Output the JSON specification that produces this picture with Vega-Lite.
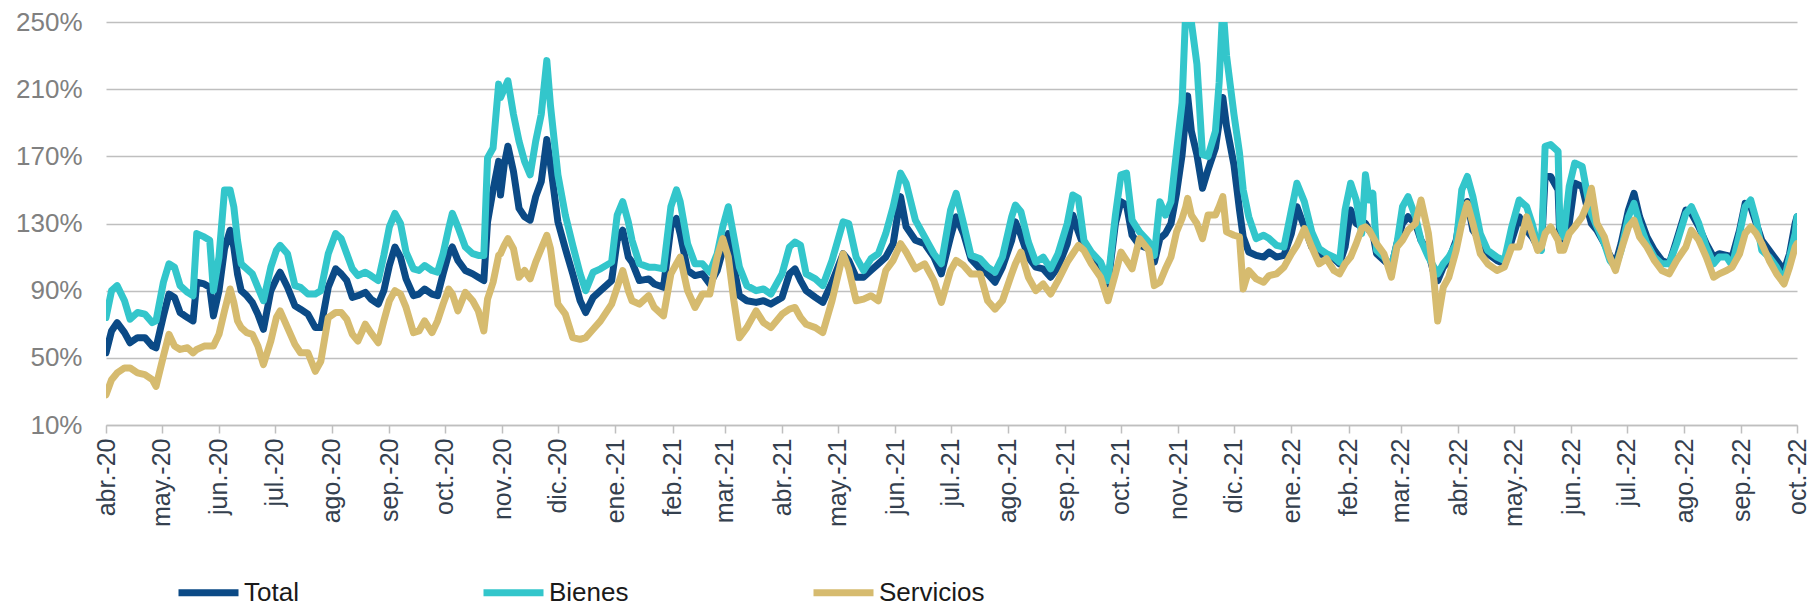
{
  "$schema": "https://vega.github.io/schema/vega-lite/v6.json",
  "width": 1691,
  "height": 403,
  "autosize": {"type": "none"},
  "padding": {"left": 106, "top": 22, "right": 15, "bottom": 183},
  "background": "white",
  "config": {"view": {"stroke": null}, "font": "Liberation Sans"},
  "data": {"values": [
    {"fecha":"2020-04-01","Total":53,"Bienes":74,"Servicios":28},
    {"fecha":"2020-04-04","Total":66,"Bienes":90,"Servicios":37},
    {"fecha":"2020-04-07","Total":71,"Bienes":93,"Servicios":41},
    {"fecha":"2020-04-11","Total":65,"Bienes":84,"Servicios":44},
    {"fecha":"2020-04-14","Total":59,"Bienes":73,"Servicios":44},
    {"fecha":"2020-04-18","Total":62,"Bienes":77,"Servicios":41},
    {"fecha":"2020-04-22","Total":62,"Bienes":76,"Servicios":40},
    {"fecha":"2020-04-26","Total":57,"Bienes":71,"Servicios":37},
    {"fecha":"2020-04-28","Total":56,"Bienes":72,"Servicios":33},
    {"fecha":"2020-05-02","Total":75,"Bienes":95,"Servicios":51},
    {"fecha":"2020-05-05","Total":88,"Bienes":106,"Servicios":64},
    {"fecha":"2020-05-08","Total":86,"Bienes":104,"Servicios":57},
    {"fecha":"2020-05-11","Total":77,"Bienes":93,"Servicios":55},
    {"fecha":"2020-05-15","Total":74,"Bienes":89,"Servicios":56},
    {"fecha":"2020-05-18","Total":72,"Bienes":87,"Servicios":53},
    {"fecha":"2020-05-20","Total":95,"Bienes":124,"Servicios":55},
    {"fecha":"2020-05-24","Total":94,"Bienes":122,"Servicios":57},
    {"fecha":"2020-05-27","Total":92,"Bienes":120,"Servicios":57},
    {"fecha":"2020-05-29","Total":75,"Bienes":90,"Servicios":57},
    {"fecha":"2020-06-01","Total":90,"Bienes":110,"Servicios":64},
    {"fecha":"2020-06-04","Total":115,"Bienes":150,"Servicios":78},
    {"fecha":"2020-06-07","Total":126,"Bienes":150,"Servicios":91},
    {"fecha":"2020-06-09","Total":116,"Bienes":140,"Servicios":83},
    {"fecha":"2020-06-11","Total":100,"Bienes":120,"Servicios":72},
    {"fecha":"2020-06-13","Total":90,"Bienes":106,"Servicios":68},
    {"fecha":"2020-06-16","Total":87,"Bienes":103,"Servicios":65},
    {"fecha":"2020-06-19","Total":83,"Bienes":100,"Servicios":64},
    {"fecha":"2020-06-22","Total":76,"Bienes":92,"Servicios":57},
    {"fecha":"2020-06-25","Total":67,"Bienes":84,"Servicios":46},
    {"fecha":"2020-06-29","Total":90,"Bienes":104,"Servicios":60},
    {"fecha":"2020-07-02","Total":97,"Bienes":114,"Servicios":74},
    {"fecha":"2020-07-04","Total":101,"Bienes":117,"Servicios":78},
    {"fecha":"2020-07-08","Total":92,"Bienes":112,"Servicios":68},
    {"fecha":"2020-07-12","Total":81,"Bienes":93,"Servicios":58},
    {"fecha":"2020-07-15","Total":79,"Bienes":92,"Servicios":53},
    {"fecha":"2020-07-19","Total":76,"Bienes":88,"Servicios":53},
    {"fecha":"2020-07-23","Total":68,"Bienes":88,"Servicios":42},
    {"fecha":"2020-07-26","Total":68,"Bienes":90,"Servicios":48},
    {"fecha":"2020-07-30","Total":92,"Bienes":112,"Servicios":74},
    {"fecha":"2020-08-03","Total":103,"Bienes":124,"Servicios":77},
    {"fecha":"2020-08-06","Total":100,"Bienes":121,"Servicios":77},
    {"fecha":"2020-08-09","Total":96,"Bienes":112,"Servicios":73},
    {"fecha":"2020-08-12","Total":86,"Bienes":103,"Servicios":64},
    {"fecha":"2020-08-15","Total":87,"Bienes":99,"Servicios":60},
    {"fecha":"2020-08-19","Total":89,"Bienes":101,"Servicios":70},
    {"fecha":"2020-08-22","Total":85,"Bienes":99,"Servicios":65},
    {"fecha":"2020-08-26","Total":82,"Bienes":96,"Servicios":59},
    {"fecha":"2020-08-29","Total":90,"Bienes":111,"Servicios":72},
    {"fecha":"2020-09-01","Total":105,"Bienes":128,"Servicios":84},
    {"fecha":"2020-09-04","Total":116,"Bienes":136,"Servicios":90},
    {"fecha":"2020-09-07","Total":110,"Bienes":130,"Servicios":88},
    {"fecha":"2020-09-10","Total":97,"Bienes":113,"Servicios":80},
    {"fecha":"2020-09-14","Total":87,"Bienes":103,"Servicios":65},
    {"fecha":"2020-09-17","Total":88,"Bienes":102,"Servicios":66},
    {"fecha":"2020-09-20","Total":91,"Bienes":105,"Servicios":72},
    {"fecha":"2020-09-24","Total":88,"Bienes":102,"Servicios":65},
    {"fecha":"2020-09-27","Total":87,"Bienes":101,"Servicios":72},
    {"fecha":"2020-09-30","Total":100,"Bienes":112,"Servicios":82},
    {"fecha":"2020-10-03","Total":112,"Bienes":127,"Servicios":91},
    {"fecha":"2020-10-05","Total":116,"Bienes":136,"Servicios":88},
    {"fecha":"2020-10-08","Total":108,"Bienes":128,"Servicios":78},
    {"fecha":"2020-10-12","Total":102,"Bienes":116,"Servicios":89},
    {"fecha":"2020-10-16","Total":100,"Bienes":112,"Servicios":84},
    {"fecha":"2020-10-19","Total":98,"Bienes":111,"Servicios":78},
    {"fecha":"2020-10-22","Total":96,"Bienes":111,"Servicios":66},
    {"fecha":"2020-10-24","Total":131,"Bienes":169,"Servicios":85},
    {"fecha":"2020-10-27","Total":150,"Bienes":175,"Servicios":95},
    {"fecha":"2020-10-30","Total":167,"Bienes":213,"Servicios":111},
    {"fecha":"2020-10-31","Total":147,"Bienes":205,"Servicios":112},
    {"fecha":"2020-11-02","Total":165,"Bienes":210,"Servicios":117},
    {"fecha":"2020-11-04","Total":176,"Bienes":215,"Servicios":121},
    {"fecha":"2020-11-07","Total":161,"Bienes":195,"Servicios":115},
    {"fecha":"2020-11-10","Total":139,"Bienes":179,"Servicios":98},
    {"fecha":"2020-11-13","Total":134,"Bienes":167,"Servicios":102},
    {"fecha":"2020-11-16","Total":132,"Bienes":159,"Servicios":97},
    {"fecha":"2020-11-19","Total":146,"Bienes":179,"Servicios":107},
    {"fecha":"2020-11-22","Total":155,"Bienes":195,"Servicios":115},
    {"fecha":"2020-11-25","Total":180,"Bienes":227,"Servicios":123},
    {"fecha":"2020-11-27","Total":165,"Bienes":200,"Servicios":115},
    {"fecha":"2020-12-01","Total":131,"Bienes":159,"Servicios":82},
    {"fecha":"2020-12-05","Total":115,"Bienes":135,"Servicios":76},
    {"fecha":"2020-12-09","Total":100,"Bienes":117,"Servicios":62},
    {"fecha":"2020-12-13","Total":84,"Bienes":100,"Servicios":61},
    {"fecha":"2020-12-16","Total":77,"Bienes":90,"Servicios":62},
    {"fecha":"2020-12-20","Total":86,"Bienes":101,"Servicios":67},
    {"fecha":"2020-12-24","Total":90,"Bienes":103,"Servicios":72},
    {"fecha":"2020-12-30","Total":96,"Bienes":107,"Servicios":82},
    {"fecha":"2021-01-02","Total":120,"Bienes":135,"Servicios":92},
    {"fecha":"2021-01-05","Total":126,"Bienes":143,"Servicios":102},
    {"fecha":"2021-01-08","Total":110,"Bienes":131,"Servicios":90},
    {"fecha":"2021-01-10","Total":107,"Bienes":120,"Servicios":84},
    {"fecha":"2021-01-14","Total":96,"Bienes":106,"Servicios":82},
    {"fecha":"2021-01-19","Total":97,"Bienes":104,"Servicios":87},
    {"fecha":"2021-01-22","Total":94,"Bienes":104,"Servicios":80},
    {"fecha":"2021-01-27","Total":92,"Bienes":103,"Servicios":75},
    {"fecha":"2021-01-31","Total":128,"Bienes":140,"Servicios":100},
    {"fecha":"2021-02-03","Total":133,"Bienes":150,"Servicios":106},
    {"fecha":"2021-02-05","Total":124,"Bienes":143,"Servicios":110},
    {"fecha":"2021-02-09","Total":102,"Bienes":118,"Servicios":90},
    {"fecha":"2021-02-13","Total":99,"Bienes":106,"Servicios":80},
    {"fecha":"2021-02-17","Total":100,"Bienes":106,"Servicios":88},
    {"fecha":"2021-02-21","Total":94,"Bienes":101,"Servicios":88},
    {"fecha":"2021-02-25","Total":102,"Bienes":112,"Servicios":110},
    {"fecha":"2021-02-28","Total":114,"Bienes":128,"Servicios":121},
    {"fecha":"2021-03-03","Total":124,"Bienes":140,"Servicios":110},
    {"fecha":"2021-03-06","Total":104,"Bienes":122,"Servicios":84},
    {"fecha":"2021-03-09","Total":87,"Bienes":104,"Servicios":62},
    {"fecha":"2021-03-13","Total":84,"Bienes":93,"Servicios":68},
    {"fecha":"2021-03-18","Total":83,"Bienes":90,"Servicios":78},
    {"fecha":"2021-03-22","Total":84,"Bienes":91,"Servicios":71},
    {"fecha":"2021-03-26","Total":82,"Bienes":88,"Servicios":68},
    {"fecha":"2021-04-01","Total":86,"Bienes":100,"Servicios":76},
    {"fecha":"2021-04-05","Total":100,"Bienes":116,"Servicios":79},
    {"fecha":"2021-04-08","Total":103,"Bienes":119,"Servicios":80},
    {"fecha":"2021-04-11","Total":96,"Bienes":117,"Servicios":74},
    {"fecha":"2021-04-14","Total":90,"Bienes":100,"Servicios":70},
    {"fecha":"2021-04-19","Total":86,"Bienes":97,"Servicios":68},
    {"fecha":"2021-04-23","Total":83,"Bienes":93,"Servicios":65},
    {"fecha":"2021-04-28","Total":95,"Bienes":108,"Servicios":84},
    {"fecha":"2021-05-04","Total":112,"Bienes":131,"Servicios":112},
    {"fecha":"2021-05-07","Total":108,"Bienes":130,"Servicios":103},
    {"fecha":"2021-05-11","Total":98,"Bienes":110,"Servicios":84},
    {"fecha":"2021-05-15","Total":98,"Bienes":102,"Servicios":85},
    {"fecha":"2021-05-19","Total":102,"Bienes":109,"Servicios":87},
    {"fecha":"2021-05-23","Total":106,"Bienes":112,"Servicios":84},
    {"fecha":"2021-05-27","Total":110,"Bienes":124,"Servicios":102},
    {"fecha":"2021-05-31","Total":118,"Bienes":140,"Servicios":108},
    {"fecha":"2021-06-04","Total":146,"Bienes":160,"Servicios":118},
    {"fecha":"2021-06-07","Total":128,"Bienes":154,"Servicios":113},
    {"fecha":"2021-06-12","Total":120,"Bienes":132,"Servicios":103},
    {"fecha":"2021-06-17","Total":118,"Bienes":122,"Servicios":106},
    {"fecha":"2021-06-22","Total":110,"Bienes":112,"Servicios":96},
    {"fecha":"2021-06-26","Total":100,"Bienes":106,"Servicios":83},
    {"fecha":"2021-07-01","Total":122,"Bienes":138,"Servicios":102},
    {"fecha":"2021-07-04","Total":134,"Bienes":148,"Servicios":108},
    {"fecha":"2021-07-08","Total":124,"Bienes":130,"Servicios":105},
    {"fecha":"2021-07-12","Total":109,"Bienes":111,"Servicios":100},
    {"fecha":"2021-07-17","Total":103,"Bienes":109,"Servicios":100},
    {"fecha":"2021-07-21","Total":100,"Bienes":104,"Servicios":84},
    {"fecha":"2021-07-25","Total":95,"Bienes":101,"Servicios":79},
    {"fecha":"2021-07-29","Total":104,"Bienes":110,"Servicios":84},
    {"fecha":"2021-08-03","Total":120,"Bienes":134,"Servicios":100},
    {"fecha":"2021-08-05","Total":131,"Bienes":141,"Servicios":106},
    {"fecha":"2021-08-08","Total":123,"Bienes":137,"Servicios":113},
    {"fecha":"2021-08-12","Total":110,"Bienes":119,"Servicios":98},
    {"fecha":"2021-08-16","Total":104,"Bienes":107,"Servicios":90},
    {"fecha":"2021-08-20","Total":103,"Bienes":110,"Servicios":94},
    {"fecha":"2021-08-24","Total":98,"Bienes":103,"Servicios":88},
    {"fecha":"2021-08-28","Total":104,"Bienes":112,"Servicios":96},
    {"fecha":"2021-09-02","Total":118,"Bienes":130,"Servicios":107},
    {"fecha":"2021-09-05","Total":135,"Bienes":147,"Servicios":112},
    {"fecha":"2021-09-08","Total":125,"Bienes":145,"Servicios":117},
    {"fecha":"2021-09-11","Total":116,"Bienes":120,"Servicios":114},
    {"fecha":"2021-09-15","Total":110,"Bienes":113,"Servicios":106},
    {"fecha":"2021-09-20","Total":103,"Bienes":107,"Servicios":98},
    {"fecha":"2021-09-24","Total":94,"Bienes":96,"Servicios":84},
    {"fecha":"2021-09-28","Total":130,"Bienes":135,"Servicios":100},
    {"fecha":"2021-10-01","Total":143,"Bienes":159,"Servicios":113},
    {"fecha":"2021-10-04","Total":141,"Bienes":160,"Servicios":108},
    {"fecha":"2021-10-07","Total":123,"Bienes":132,"Servicios":103},
    {"fecha":"2021-10-11","Total":117,"Bienes":125,"Servicios":121},
    {"fecha":"2021-10-16","Total":115,"Bienes":119,"Servicios":114},
    {"fecha":"2021-10-19","Total":107,"Bienes":111,"Servicios":93},
    {"fecha":"2021-10-22","Total":121,"Bienes":143,"Servicios":95},
    {"fecha":"2021-10-25","Total":124,"Bienes":135,"Servicios":103},
    {"fecha":"2021-10-28","Total":130,"Bienes":143,"Servicios":110},
    {"fecha":"2021-10-31","Total":148,"Bienes":173,"Servicios":125},
    {"fecha":"2021-11-03","Total":171,"Bienes":202,"Servicios":133},
    {"fecha":"2021-11-05","Total":195,"Bienes":258,"Servicios":140},
    {"fecha":"2021-11-06","Total":206,"Bienes":260,"Servicios":145},
    {"fecha":"2021-11-08","Total":185,"Bienes":250,"Servicios":135},
    {"fecha":"2021-11-11","Total":171,"Bienes":225,"Servicios":130},
    {"fecha":"2021-11-14","Total":151,"Bienes":171,"Servicios":121},
    {"fecha":"2021-11-17","Total":162,"Bienes":170,"Servicios":135},
    {"fecha":"2021-11-21","Total":175,"Bienes":185,"Servicios":135},
    {"fecha":"2021-11-23","Total":190,"Bienes":214,"Servicios":140},
    {"fecha":"2021-11-25","Total":205,"Bienes":260,"Servicios":146},
    {"fecha":"2021-11-27","Total":188,"Bienes":230,"Servicios":125},
    {"fecha":"2021-12-01","Total":165,"Bienes":195,"Servicios":123},
    {"fecha":"2021-12-04","Total":138,"Bienes":172,"Servicios":122},
    {"fecha":"2021-12-06","Total":122,"Bienes":150,"Servicios":91},
    {"fecha":"2021-12-09","Total":113,"Bienes":134,"Servicios":102},
    {"fecha":"2021-12-13","Total":111,"Bienes":121,"Servicios":97},
    {"fecha":"2021-12-17","Total":110,"Bienes":123,"Servicios":95},
    {"fecha":"2021-12-20","Total":113,"Bienes":121,"Servicios":99},
    {"fecha":"2021-12-24","Total":110,"Bienes":117,"Servicios":100},
    {"fecha":"2021-12-28","Total":111,"Bienes":116,"Servicios":104},
    {"fecha":"2022-01-01","Total":124,"Bienes":138,"Servicios":112},
    {"fecha":"2022-01-04","Total":140,"Bienes":154,"Servicios":117},
    {"fecha":"2022-01-08","Total":128,"Bienes":143,"Servicios":127},
    {"fecha":"2022-01-12","Total":116,"Bienes":125,"Servicios":116},
    {"fecha":"2022-01-16","Total":112,"Bienes":115,"Servicios":106},
    {"fecha":"2022-01-20","Total":111,"Bienes":112,"Servicios":109},
    {"fecha":"2022-01-24","Total":109,"Bienes":110,"Servicios":102},
    {"fecha":"2022-01-27","Total":106,"Bienes":107,"Servicios":100},
    {"fecha":"2022-01-30","Total":116,"Bienes":138,"Servicios":106},
    {"fecha":"2022-02-02","Total":138,"Bienes":154,"Servicios":110},
    {"fecha":"2022-02-05","Total":130,"Bienes":144,"Servicios":118},
    {"fecha":"2022-02-08","Total":128,"Bienes":124,"Servicios":127},
    {"fecha":"2022-02-10","Total":130,"Bienes":159,"Servicios":128},
    {"fecha":"2022-02-12","Total":126,"Bienes":144,"Servicios":126},
    {"fecha":"2022-02-14","Total":124,"Bienes":148,"Servicios":122},
    {"fecha":"2022-02-16","Total":112,"Bienes":114,"Servicios":118},
    {"fecha":"2022-02-20","Total":108,"Bienes":110,"Servicios":112},
    {"fecha":"2022-02-24","Total":104,"Bienes":104,"Servicios":98},
    {"fecha":"2022-02-27","Total":118,"Bienes":118,"Servicios":116},
    {"fecha":"2022-03-02","Total":130,"Bienes":140,"Servicios":120},
    {"fecha":"2022-03-05","Total":134,"Bienes":146,"Servicios":126},
    {"fecha":"2022-03-09","Total":130,"Bienes":134,"Servicios":130},
    {"fecha":"2022-03-12","Total":120,"Bienes":120,"Servicios":144},
    {"fecha":"2022-03-16","Total":113,"Bienes":110,"Servicios":124},
    {"fecha":"2022-03-19","Total":100,"Bienes":104,"Servicios":96},
    {"fecha":"2022-03-21","Total":96,"Bienes":100,"Servicios":72},
    {"fecha":"2022-03-24","Total":104,"Bienes":106,"Servicios":92},
    {"fecha":"2022-03-27","Total":108,"Bienes":110,"Servicios":98},
    {"fecha":"2022-03-31","Total":120,"Bienes":118,"Servicios":114},
    {"fecha":"2022-04-03","Total":140,"Bienes":150,"Servicios":130},
    {"fecha":"2022-04-06","Total":143,"Bienes":158,"Servicios":142},
    {"fecha":"2022-04-09","Total":126,"Bienes":146,"Servicios":130},
    {"fecha":"2022-04-13","Total":120,"Bienes":124,"Servicios":112},
    {"fecha":"2022-04-17","Total":112,"Bienes":114,"Servicios":106},
    {"fecha":"2022-04-22","Total":108,"Bienes":110,"Servicios":102},
    {"fecha":"2022-04-26","Total":106,"Bienes":108,"Servicios":104},
    {"fecha":"2022-04-30","Total":120,"Bienes":128,"Servicios":116},
    {"fecha":"2022-05-04","Total":134,"Bienes":144,"Servicios":116},
    {"fecha":"2022-05-08","Total":126,"Bienes":140,"Servicios":134},
    {"fecha":"2022-05-11","Total":122,"Bienes":130,"Servicios":124},
    {"fecha":"2022-05-14","Total":116,"Bienes":117,"Servicios":114},
    {"fecha":"2022-05-16","Total":115,"Bienes":114,"Servicios":116},
    {"fecha":"2022-05-18","Total":158,"Bienes":176,"Servicios":124},
    {"fecha":"2022-05-21","Total":158,"Bienes":177,"Servicios":128},
    {"fecha":"2022-05-25","Total":150,"Bienes":173,"Servicios":120},
    {"fecha":"2022-05-26","Total":120,"Bienes":128,"Servicios":114},
    {"fecha":"2022-05-28","Total":124,"Bienes":122,"Servicios":114},
    {"fecha":"2022-05-31","Total":130,"Bienes":152,"Servicios":124},
    {"fecha":"2022-06-03","Total":154,"Bienes":166,"Servicios":128},
    {"fecha":"2022-06-07","Total":152,"Bienes":164,"Servicios":134},
    {"fecha":"2022-06-10","Total":138,"Bienes":146,"Servicios":142},
    {"fecha":"2022-06-12","Total":130,"Bienes":136,"Servicios":151},
    {"fecha":"2022-06-15","Total":126,"Bienes":128,"Servicios":130},
    {"fecha":"2022-06-19","Total":118,"Bienes":118,"Servicios":122},
    {"fecha":"2022-06-22","Total":111,"Bienes":108,"Servicios":110},
    {"fecha":"2022-06-25","Total":106,"Bienes":104,"Servicios":102},
    {"fecha":"2022-06-28","Total":118,"Bienes":114,"Servicios":114},
    {"fecha":"2022-07-02","Total":138,"Bienes":134,"Servicios":128},
    {"fecha":"2022-07-05","Total":148,"Bienes":142,"Servicios":132},
    {"fecha":"2022-07-08","Total":134,"Bienes":130,"Servicios":122},
    {"fecha":"2022-07-12","Total":122,"Bienes":118,"Servicios":116},
    {"fecha":"2022-07-16","Total":114,"Bienes":110,"Servicios":108},
    {"fecha":"2022-07-20","Total":108,"Bienes":106,"Servicios":102},
    {"fecha":"2022-07-24","Total":106,"Bienes":106,"Servicios":100},
    {"fecha":"2022-07-28","Total":120,"Bienes":118,"Servicios":108},
    {"fecha":"2022-08-02","Total":138,"Bienes":136,"Servicios":116},
    {"fecha":"2022-08-05","Total":136,"Bienes":140,"Servicios":126},
    {"fecha":"2022-08-09","Total":128,"Bienes":130,"Servicios":120},
    {"fecha":"2022-08-13","Total":118,"Bienes":116,"Servicios":110},
    {"fecha":"2022-08-17","Total":110,"Bienes":106,"Servicios":98},
    {"fecha":"2022-08-20","Total":112,"Bienes":110,"Servicios":100},
    {"fecha":"2022-08-24","Total":111,"Bienes":110,"Servicios":102},
    {"fecha":"2022-08-27","Total":110,"Bienes":105,"Servicios":104},
    {"fecha":"2022-08-31","Total":126,"Bienes":124,"Servicios":112},
    {"fecha":"2022-09-03","Total":142,"Bienes":140,"Servicios":124},
    {"fecha":"2022-09-06","Total":140,"Bienes":144,"Servicios":128},
    {"fecha":"2022-09-09","Total":130,"Bienes":132,"Servicios":124},
    {"fecha":"2022-09-12","Total":120,"Bienes":114,"Servicios":118},
    {"fecha":"2022-09-16","Total":114,"Bienes":110,"Servicios":108},
    {"fecha":"2022-09-20","Total":108,"Bienes":104,"Servicios":100},
    {"fecha":"2022-09-24","Total":102,"Bienes":96,"Servicios":94},
    {"fecha":"2022-09-27","Total":112,"Bienes":110,"Servicios":104},
    {"fecha":"2022-09-30","Total":130,"Bienes":124,"Servicios":116},
    {"fecha":"2022-10-01","Total":134,"Bienes":134,"Servicios":118}
  ]},
  "transform": [{"fold": ["Total", "Bienes", "Servicios"], "as": ["serie", "valor"]}],
  "encoding": {
    "x": {
      "field": "fecha", "type": "temporal",
      "scale": {"type": "utc", "domain": [{"year": 2020, "month": 4, "date": 1, "utc": true}, {"year": 2022, "month": 10, "date": 1, "utc": true}]},
      "axis": {
        "title": null,
        "tickCount": {"interval": "month", "step": 1},
        "labelExpr": "['ene.','feb.','mar.','abr.','may.','jun.','jul.','ago.','sep.','oct.','nov.','dic.'][utcmonth(datum.value)] + '-' + utcFormat(datum.value, '%y')",
        "labelAngle": 270, "labelAlign": "right", "labelBaseline": "middle",
        "labelFontSize": 25, "labelColor": "#34404e", "labelPadding": 5,
        "labelOverlap": false, "labelFlush": false, "labelBound": false,
        "ticks": true, "tickSize": 8, "tickColor": "#bfbfbf", "tickWidth": 1.5,
        "domain": true, "domainColor": "#bfbfbf", "domainWidth": 1.5,
        "grid": false
      }
    },
    "y": {
      "field": "valor", "type": "quantitative",
      "scale": {"domain": [10, 250], "nice": false, "zero": false},
      "axis": {
        "title": null,
        "values": [10, 50, 90, 130, 170, 210, 250],
        "labelExpr": "datum.value + '%'",
        "labelFontSize": 26, "labelColor": "#808080", "labelPadding": 24,
        "ticks": false, "domain": false,
        "grid": true, "gridColor": "#bfbfbf", "gridWidth": 1.5
      }
    },
    "color": {
      "field": "serie", "type": "nominal",
      "scale": {"domain": ["Total", "Bienes", "Servicios"], "range": ["#0b4a86", "#33c6cb", "#d6bb6f"]},
      "legend": {
        "title": null, "orient": "none", "legendX": 69, "legendY": 537,
        "direction": "horizontal", "columns": 3, "columnPadding": 170,
        "symbolType": "stroke", "symbolSize": 3600, "symbolStrokeWidth": 7,
        "labelFontSize": 26, "labelColor": "#1a1a1a", "labelFont": "Liberation Sans",
        "labelOffset": 2, "padding": 0
      }
    }
  },
  "layer": [
    {"transform": [{"filter": "datum.serie === 'Total'"}], "mark": {"type": "line", "strokeWidth": 7, "clip": true, "strokeJoin": "round", "strokeCap": "round"}},
    {"transform": [{"filter": "datum.serie === 'Bienes'"}], "mark": {"type": "line", "strokeWidth": 7, "clip": true, "strokeJoin": "round", "strokeCap": "round"}},
    {"transform": [{"filter": "datum.serie === 'Servicios'"}], "mark": {"type": "line", "strokeWidth": 7, "clip": true, "strokeJoin": "round", "strokeCap": "round"}}
  ]
}
